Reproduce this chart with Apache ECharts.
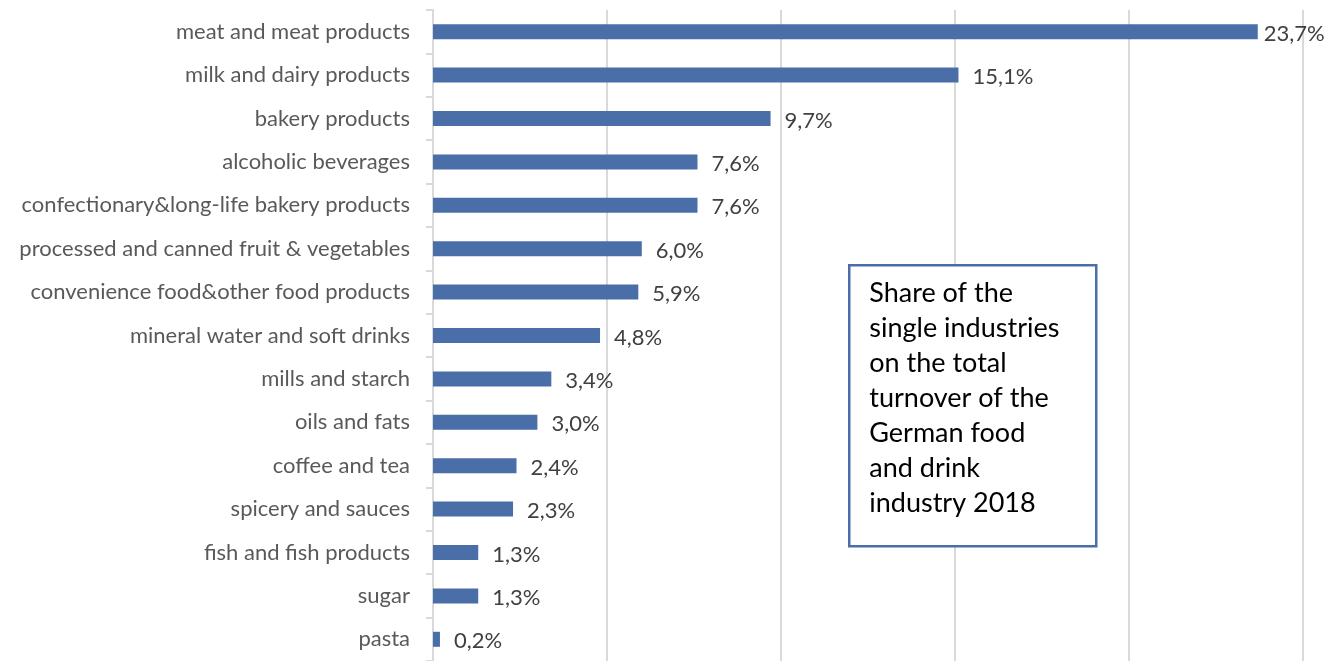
<!DOCTYPE html>
<html>
<head>
<meta charset="utf-8">
<script src="https://cdn.jsdelivr.net/npm/echarts@6/dist/echarts.min.js"></script>
<style>
  html, body { margin: 0; padding: 0; background: #ffffff; }
  #chart { width: 1328px; height: 661px; }
</style>
</head>
<body>
<div id="chart"></div>
<script>
// Industry segments, top to bottom
const categories = [
  'meat and meat products',
  'milk and dairy products',
  'bakery products',
  'alcoholic beverages',
  'confectionary&long-life bakery products',
  'processed and canned fruit & vegetables',
  'convenience food&other food products',
  'mineral water and soft drinks',
  'mills and starch',
  'oils and fats',
  'coffee and tea',
  'spicery and sauces',
  'fish and fish products',
  'sugar',
  'pasta'
];

// Share of total turnover, percent
const shares = [23.7, 15.1, 9.7, 7.6, 7.6, 6.0, 5.9, 4.8, 3.4, 3.0, 2.4, 2.3, 1.3, 1.3, 0.2];

const noteLines = [
  'Share of the',
  'single industries',
  'on the total',
  'turnover of the',
  'German food',
  'and drink',
  'industry 2018'
];

const FONT = 'Lato, "Open Sans", sans-serif';
const X_MAX = 25;

// The longest bar's label is pulled in closer so it stays inside the canvas
const maxShare = Math.max(...shares);
const barData = shares.map(v => v === maxShare
  ? { value: v, label: { distance: 6 } }
  : v);

const chart = echarts.init(document.getElementById('chart'));

chart.setOption({
  animation: false,
  grid: { left: 433, right: 25, top: 10, bottom: -5, containLabel: false },
  xAxis: {
    type: 'value',
    min: 0,
    max: X_MAX,
    interval: 5,
    axisLine: { show: false },
    axisTick: { show: false },
    axisLabel: { show: false },
    splitLine: { show: true, lineStyle: { color: '#d9d9d9', width: 2 } }
  },
  yAxis: {
    type: 'category',
    data: categories,
    inverse: true,
    axisLine: { show: true, lineStyle: { color: '#d9d9d9', width: 2 } },
    axisTick: { show: true, length: 7, lineStyle: { color: '#d9d9d9', width: 2 } },
    axisLabel: { margin: 23, color: '#595959', fontSize: 22, fontFamily: FONT }
  },
  series: [{
    type: 'bar',
    data: barData,
    barWidth: 15,
    itemStyle: { color: '#4a6ea8' },
    label: {
      show: true,
      position: 'right',
      distance: 14,
      offset: [0, 2],
      color: '#404040',
      fontSize: 22,
      fontFamily: FONT,
      formatter: p => p.value.toFixed(1).replace('.', ',') + '%'
    }
  }],
  graphic: [{
    type: 'group',
    left: 848,
    top: 264,
    z: 100,
    children: [{
      type: 'rect',
      z: 100,
      shape: { x: 0, y: 0, width: 247, height: 281 },
      style: { fill: '#ffffff', stroke: '#4a6ea8', lineWidth: 2.5 }
    }, {
      type: 'text',
      z: 101,
      x: 20,
      y: 11,
      style: {
        text: noteLines.join('\n'),
        fill: '#000000',
        font: '27px ' + FONT,
        lineHeight: 35
      }
    }]
  }]
});
</script>
</body>
</html>
